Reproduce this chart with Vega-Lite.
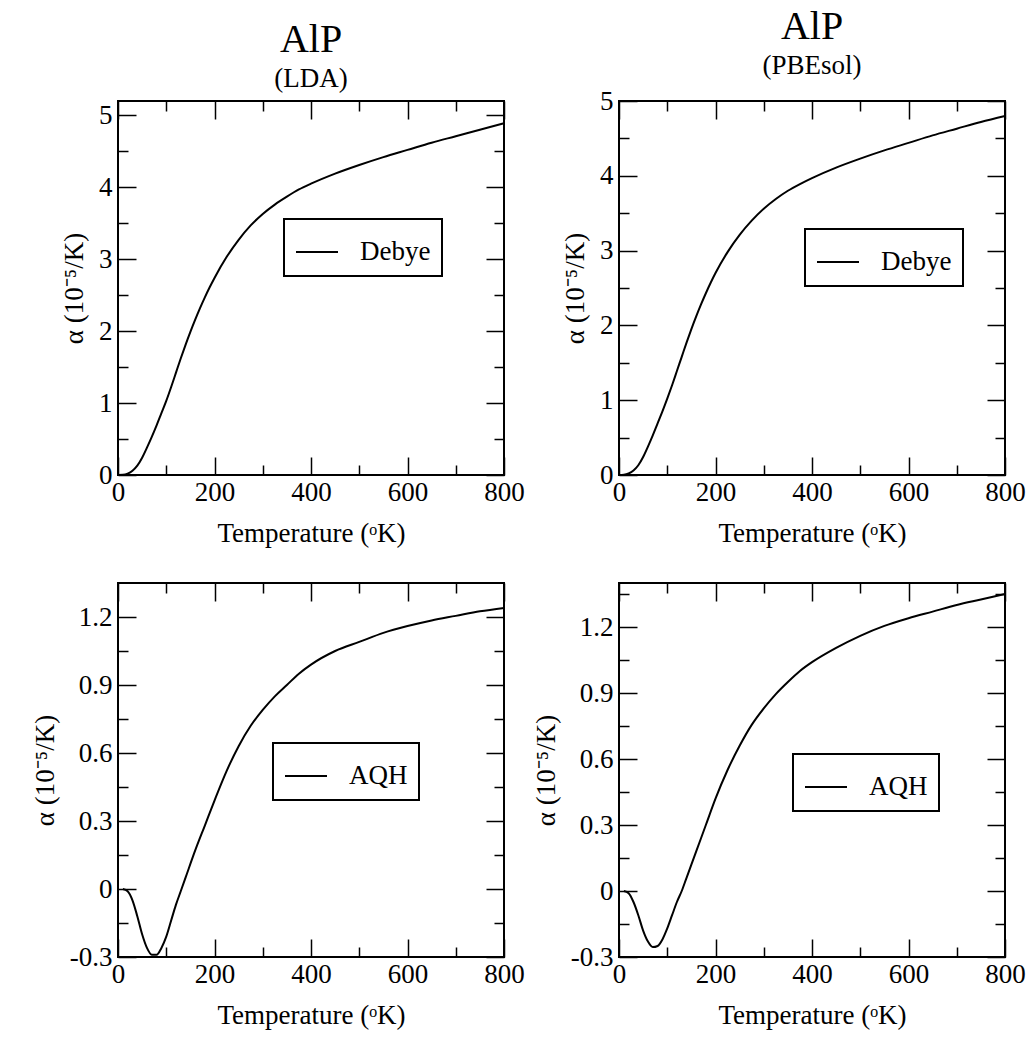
{
  "$schema": "https://vega.github.io/schema/vega-lite/v6.json",
  "background": "white",
  "padding": {"left": 30, "top": 6, "right": 10, "bottom": 10},
  "config": {
    "font": "Liberation Serif",
    "view": {"stroke": "black", "strokeWidth": 2},
    "style": {
      "guide-label": {"font": "Liberation Serif"},
      "guide-title": {"font": "Liberation Serif"},
      "group-title": {"font": "Liberation Serif"},
      "group-subtitle": {"font": "Liberation Serif"}
    },
    "axis": {
      "domain": false, "grid": false, "tickColor": "black", "tickWidth": 1.5,
      "labelFont": "Liberation Serif", "labelFontSize": 27, "labelColor": "black",
      "titleFont": "Liberation Serif", "titleFontSize": 27, "titleFontWeight": "normal", "titleColor": "black",
      "labelOverlap": false, "labelFlush": false
    },
    "title": {"font": "Liberation Serif", "fontSize": 40, "fontWeight": "normal", "color": "black",
      "subtitleFont": "Liberation Serif", "subtitleFontSize": 27, "subtitleColor": "black", "subtitlePadding": 6, "offset": 8, "anchor": "middle"},
    "legend": {"orient": "none", "title": null, "strokeColor": "black", "padding": 11, "symbolType": "stroke",
      "symbolSize": 1764, "symbolStrokeWidth": 2, "labelFont": "Liberation Serif", "labelFontSize": 27, "labelColor": "black", "labelOffset": 21,
      "fillColor": "white"}
  },
  "resolve": {"scale": {"color": "independent"}, "legend": {"color": "independent"}},
  "datasets": {
    "lda_debye": [
      {"T": 0, "a": 0, "s": "Debye"}, {"T": 10, "a": 0.003, "s": "Debye"}, {"T": 20, "a": 0.02, "s": "Debye"}, {"T": 30, "a": 0.06, "s": "Debye"},
      {"T": 40, "a": 0.13, "s": "Debye"}, {"T": 50, "a": 0.24, "s": "Debye"}, {"T": 60, "a": 0.38, "s": "Debye"}, {"T": 70, "a": 0.53, "s": "Debye"},
      {"T": 80, "a": 0.69, "s": "Debye"}, {"T": 90, "a": 0.86, "s": "Debye"}, {"T": 100, "a": 1.03, "s": "Debye"}, {"T": 110, "a": 1.22, "s": "Debye"},
      {"T": 120, "a": 1.42, "s": "Debye"}, {"T": 130, "a": 1.62, "s": "Debye"}, {"T": 140, "a": 1.81, "s": "Debye"}, {"T": 150, "a": 1.99, "s": "Debye"},
      {"T": 160, "a": 2.16, "s": "Debye"}, {"T": 170, "a": 2.32, "s": "Debye"}, {"T": 180, "a": 2.47, "s": "Debye"}, {"T": 190, "a": 2.61, "s": "Debye"},
      {"T": 200, "a": 2.74, "s": "Debye"}, {"T": 225, "a": 3.03, "s": "Debye"}, {"T": 250, "a": 3.27, "s": "Debye"}, {"T": 275, "a": 3.47, "s": "Debye"},
      {"T": 300, "a": 3.63, "s": "Debye"}, {"T": 325, "a": 3.76, "s": "Debye"}, {"T": 350, "a": 3.87, "s": "Debye"}, {"T": 375, "a": 3.97, "s": "Debye"},
      {"T": 400, "a": 4.05, "s": "Debye"}, {"T": 450, "a": 4.19, "s": "Debye"}, {"T": 500, "a": 4.31, "s": "Debye"}, {"T": 550, "a": 4.42, "s": "Debye"},
      {"T": 600, "a": 4.52, "s": "Debye"}, {"T": 650, "a": 4.62, "s": "Debye"}, {"T": 700, "a": 4.71, "s": "Debye"}, {"T": 750, "a": 4.8, "s": "Debye"},
      {"T": 800, "a": 4.89, "s": "Debye"}
    ],
    "pbe_debye": [
      {"T": 0, "a": 0, "s": "Debye"}, {"T": 10, "a": 0.003, "s": "Debye"}, {"T": 20, "a": 0.02, "s": "Debye"}, {"T": 30, "a": 0.06, "s": "Debye"},
      {"T": 40, "a": 0.13, "s": "Debye"}, {"T": 50, "a": 0.24, "s": "Debye"}, {"T": 60, "a": 0.38, "s": "Debye"}, {"T": 70, "a": 0.53, "s": "Debye"},
      {"T": 80, "a": 0.69, "s": "Debye"}, {"T": 90, "a": 0.85, "s": "Debye"}, {"T": 100, "a": 1.02, "s": "Debye"}, {"T": 110, "a": 1.2, "s": "Debye"},
      {"T": 120, "a": 1.39, "s": "Debye"}, {"T": 130, "a": 1.58, "s": "Debye"}, {"T": 140, "a": 1.77, "s": "Debye"}, {"T": 150, "a": 1.95, "s": "Debye"},
      {"T": 160, "a": 2.12, "s": "Debye"}, {"T": 170, "a": 2.28, "s": "Debye"}, {"T": 180, "a": 2.43, "s": "Debye"}, {"T": 190, "a": 2.57, "s": "Debye"},
      {"T": 200, "a": 2.7, "s": "Debye"}, {"T": 225, "a": 2.98, "s": "Debye"}, {"T": 250, "a": 3.21, "s": "Debye"}, {"T": 275, "a": 3.4, "s": "Debye"},
      {"T": 300, "a": 3.56, "s": "Debye"}, {"T": 325, "a": 3.69, "s": "Debye"}, {"T": 350, "a": 3.8, "s": "Debye"}, {"T": 375, "a": 3.89, "s": "Debye"},
      {"T": 400, "a": 3.97, "s": "Debye"}, {"T": 450, "a": 4.11, "s": "Debye"}, {"T": 500, "a": 4.23, "s": "Debye"}, {"T": 550, "a": 4.34, "s": "Debye"},
      {"T": 600, "a": 4.44, "s": "Debye"}, {"T": 650, "a": 4.54, "s": "Debye"}, {"T": 700, "a": 4.63, "s": "Debye"}, {"T": 750, "a": 4.72, "s": "Debye"},
      {"T": 800, "a": 4.8, "s": "Debye"}
    ],
    "lda_aqh": [
      {"T": 10, "a": 0, "s": "AQH"}, {"T": 20, "a": -0.01, "s": "AQH"}, {"T": 30, "a": -0.05, "s": "AQH"}, {"T": 40, "a": -0.12, "s": "AQH"},
      {"T": 50, "a": -0.2, "s": "AQH"}, {"T": 60, "a": -0.26, "s": "AQH"}, {"T": 70, "a": -0.29, "s": "AQH"}, {"T": 80, "a": -0.29, "s": "AQH"},
      {"T": 90, "a": -0.26, "s": "AQH"}, {"T": 100, "a": -0.21, "s": "AQH"}, {"T": 110, "a": -0.14, "s": "AQH"}, {"T": 120, "a": -0.07, "s": "AQH"},
      {"T": 130, "a": -0.01, "s": "AQH"}, {"T": 140, "a": 0.05, "s": "AQH"}, {"T": 160, "a": 0.17, "s": "AQH"}, {"T": 180, "a": 0.28, "s": "AQH"},
      {"T": 200, "a": 0.39, "s": "AQH"}, {"T": 225, "a": 0.52, "s": "AQH"}, {"T": 250, "a": 0.63, "s": "AQH"}, {"T": 275, "a": 0.72, "s": "AQH"},
      {"T": 300, "a": 0.79, "s": "AQH"}, {"T": 325, "a": 0.85, "s": "AQH"}, {"T": 350, "a": 0.9, "s": "AQH"}, {"T": 375, "a": 0.95, "s": "AQH"},
      {"T": 400, "a": 0.99, "s": "AQH"}, {"T": 450, "a": 1.05, "s": "AQH"}, {"T": 500, "a": 1.09, "s": "AQH"}, {"T": 550, "a": 1.13, "s": "AQH"},
      {"T": 600, "a": 1.16, "s": "AQH"}, {"T": 650, "a": 1.185, "s": "AQH"}, {"T": 700, "a": 1.205, "s": "AQH"}, {"T": 750, "a": 1.225, "s": "AQH"},
      {"T": 800, "a": 1.24, "s": "AQH"}
    ],
    "pbe_aqh": [
      {"T": 10, "a": 0, "s": "AQH"}, {"T": 20, "a": -0.01, "s": "AQH"}, {"T": 30, "a": -0.05, "s": "AQH"}, {"T": 40, "a": -0.11, "s": "AQH"},
      {"T": 50, "a": -0.18, "s": "AQH"}, {"T": 60, "a": -0.23, "s": "AQH"}, {"T": 70, "a": -0.255, "s": "AQH"}, {"T": 80, "a": -0.25, "s": "AQH"},
      {"T": 90, "a": -0.22, "s": "AQH"}, {"T": 100, "a": -0.17, "s": "AQH"}, {"T": 110, "a": -0.11, "s": "AQH"}, {"T": 120, "a": -0.05, "s": "AQH"},
      {"T": 130, "a": 0.0, "s": "AQH"}, {"T": 140, "a": 0.06, "s": "AQH"}, {"T": 160, "a": 0.18, "s": "AQH"}, {"T": 180, "a": 0.3, "s": "AQH"},
      {"T": 200, "a": 0.42, "s": "AQH"}, {"T": 225, "a": 0.55, "s": "AQH"}, {"T": 250, "a": 0.66, "s": "AQH"}, {"T": 275, "a": 0.755, "s": "AQH"},
      {"T": 300, "a": 0.83, "s": "AQH"}, {"T": 325, "a": 0.895, "s": "AQH"}, {"T": 350, "a": 0.95, "s": "AQH"}, {"T": 375, "a": 1.0, "s": "AQH"},
      {"T": 400, "a": 1.04, "s": "AQH"}, {"T": 450, "a": 1.105, "s": "AQH"}, {"T": 500, "a": 1.16, "s": "AQH"}, {"T": 550, "a": 1.205, "s": "AQH"},
      {"T": 600, "a": 1.24, "s": "AQH"}, {"T": 650, "a": 1.27, "s": "AQH"}, {"T": 700, "a": 1.3, "s": "AQH"}, {"T": 750, "a": 1.325, "s": "AQH"},
      {"T": 800, "a": 1.35, "s": "AQH"}
    ]
  },
  "columns": 2,
  "spacing": {"row": 108, "column": 115},
  "bounds": "flush",
  "concat": [
    {
      "width": 386, "height": 374,
      "title": {"text": "AlP", "subtitle": "(LDA)", "font": "Liberation Serif", "subtitleFont": "Liberation Serif"},
      "data": {"name": "lda_debye"},
      "resolve": {"axis": {"x": "independent", "y": "independent"}},
      "layer": [
        {
          "mark": {"type": "line", "strokeWidth": 2, "interpolate": "monotone", "color": "black"},
          "encoding": {
            "x": {"field": "T", "type": "quantitative", "scale": {"domain": [0, 800], "nice": false},
              "axis": {"orient": "bottom", "title": "Temperature (ᵒK)", "values": [0, 200, 400, 600, 800], "tickSize": -18,
                "labelExpr": "format(datum.value, 'd')", "labelPadding": 22, "titlePadding": 15, "labelFont": "Liberation Serif", "titleFont": "Liberation Serif"}},
            "y": {"field": "a", "type": "quantitative", "scale": {"domain": [0, 5.2], "nice": false, "zero": false},
              "axis": {"orient": "left", "title": "α (10⁻⁵/K)", "values": [0, 1, 2, 3, 4, 5], "tickSize": -18,
                "labelExpr": "format(datum.value, 'd')", "labelPadding": 24, "titlePadding": 10, "labelFont": "Liberation Serif", "titleFont": "Liberation Serif"}},
            "color": {"field": "s", "type": "nominal", "scale": {"range": ["black"]},
              "legend": {"legendX": 166, "legendY": 118, "encode": {"legend": {"update": {"strokeWidth": {"value": 2}}}}}}
          }
        },
        {
          "mark": {"type": "line", "opacity": 0},
          "encoding": {
            "x": {"field": "T", "type": "quantitative", "axis": {"orient": "top", "title": null, "labels": false, "values": [0, 200, 400, 600, 800], "tickSize": -18}},
            "y": {"field": "a", "type": "quantitative", "axis": {"orient": "right", "title": null, "labels": false, "values": [0, 1, 2, 3, 4, 5], "tickSize": -18}}
          }
        },
        {
          "mark": {"type": "line", "opacity": 0},
          "encoding": {
            "x": {"field": "T", "type": "quantitative", "axis": {"orient": "bottom", "title": null, "labels": false, "values": [100, 300, 500, 700], "tickSize": -10}},
            "y": {"field": "a", "type": "quantitative", "axis": {"orient": "left", "title": null, "labels": false, "values": [0.5, 1.5, 2.5, 3.5, 4.5], "tickSize": -10}}
          }
        },
        {
          "mark": {"type": "line", "opacity": 0},
          "encoding": {
            "x": {"field": "T", "type": "quantitative", "axis": {"orient": "top", "title": null, "labels": false, "values": [100, 300, 500, 700], "tickSize": -10}},
            "y": {"field": "a", "type": "quantitative", "axis": {"orient": "right", "title": null, "labels": false, "values": [0.5, 1.5, 2.5, 3.5, 4.5], "tickSize": -10}}
          }
        }
      ]
    },
    {
      "width": 386, "height": 374,
      "title": {"text": "AlP", "subtitle": "(PBEsol)", "font": "Liberation Serif", "subtitleFont": "Liberation Serif"},
      "data": {"name": "pbe_debye"},
      "resolve": {"axis": {"x": "independent", "y": "independent"}},
      "layer": [
        {
          "mark": {"type": "line", "strokeWidth": 2, "interpolate": "monotone", "color": "black"},
          "encoding": {
            "x": {"field": "T", "type": "quantitative", "scale": {"domain": [0, 800], "nice": false},
              "axis": {"orient": "bottom", "title": "Temperature (ᵒK)", "values": [0, 200, 400, 600, 800], "tickSize": -18,
                "labelExpr": "format(datum.value, 'd')", "labelPadding": 22, "titlePadding": 15, "labelFont": "Liberation Serif", "titleFont": "Liberation Serif"}},
            "y": {"field": "a", "type": "quantitative", "scale": {"domain": [0, 5], "nice": false, "zero": false},
              "axis": {"orient": "left", "title": "α (10⁻⁵/K)", "values": [0, 1, 2, 3, 4, 5], "tickSize": -18,
                "labelExpr": "format(datum.value, 'd')", "labelPadding": 24, "titlePadding": 10, "labelFont": "Liberation Serif", "titleFont": "Liberation Serif"}},
            "color": {"field": "s", "type": "nominal", "scale": {"range": ["black"]},
              "legend": {"legendX": 186, "legendY": 128, "encode": {"legend": {"update": {"strokeWidth": {"value": 2}}}}}}
          }
        },
        {
          "mark": {"type": "line", "opacity": 0},
          "encoding": {
            "x": {"field": "T", "type": "quantitative", "axis": {"orient": "top", "title": null, "labels": false, "values": [0, 200, 400, 600, 800], "tickSize": -18}},
            "y": {"field": "a", "type": "quantitative", "axis": {"orient": "right", "title": null, "labels": false, "values": [0, 1, 2, 3, 4, 5], "tickSize": -18}}
          }
        },
        {
          "mark": {"type": "line", "opacity": 0},
          "encoding": {
            "x": {"field": "T", "type": "quantitative", "axis": {"orient": "bottom", "title": null, "labels": false, "values": [100, 300, 500, 700], "tickSize": -10}},
            "y": {"field": "a", "type": "quantitative", "axis": {"orient": "left", "title": null, "labels": false, "values": [0.5, 1.5, 2.5, 3.5, 4.5], "tickSize": -10}}
          }
        },
        {
          "mark": {"type": "line", "opacity": 0},
          "encoding": {
            "x": {"field": "T", "type": "quantitative", "axis": {"orient": "top", "title": null, "labels": false, "values": [100, 300, 500, 700], "tickSize": -10}},
            "y": {"field": "a", "type": "quantitative", "axis": {"orient": "right", "title": null, "labels": false, "values": [0.5, 1.5, 2.5, 3.5, 4.5], "tickSize": -10}}
          }
        }
      ]
    },
    {
      "width": 386, "height": 374,
      "data": {"name": "lda_aqh"},
      "resolve": {"axis": {"x": "independent", "y": "independent"}},
      "layer": [
        {
          "mark": {"type": "line", "strokeWidth": 2, "interpolate": "monotone", "color": "black"},
          "encoding": {
            "x": {"field": "T", "type": "quantitative", "scale": {"domain": [0, 800], "nice": false},
              "axis": {"orient": "bottom", "title": "Temperature (ᵒK)", "values": [0, 200, 400, 600, 800], "tickSize": -18,
                "labelExpr": "format(datum.value, 'd')", "labelPadding": 22, "titlePadding": 15, "labelFont": "Liberation Serif", "titleFont": "Liberation Serif"}},
            "y": {"field": "a", "type": "quantitative", "scale": {"domain": [-0.3, 1.35], "nice": false, "zero": false},
              "axis": {"orient": "left", "title": "α (10⁻⁵/K)", "values": [-0.3, 0, 0.3, 0.6, 0.9, 1.2], "tickSize": -18,
                "labelExpr": "datum.value == 0 ? '0' : replace(format(datum.value, '.1f'), '−', '-')", "labelPadding": 24, "titlePadding": 10, "labelFont": "Liberation Serif", "titleFont": "Liberation Serif"}},
            "color": {"field": "s", "type": "nominal", "scale": {"range": ["black"]},
              "legend": {"legendX": 155, "legendY": 160, "encode": {"legend": {"update": {"strokeWidth": {"value": 2}}}}}}
          }
        },
        {
          "mark": {"type": "line", "opacity": 0},
          "encoding": {
            "x": {"field": "T", "type": "quantitative", "axis": {"orient": "top", "title": null, "labels": false, "values": [0, 200, 400, 600, 800], "tickSize": -18}},
            "y": {"field": "a", "type": "quantitative", "axis": {"orient": "right", "title": null, "labels": false, "values": [-0.3, 0, 0.3, 0.6, 0.9, 1.2], "tickSize": -18}}
          }
        },
        {
          "mark": {"type": "line", "opacity": 0},
          "encoding": {
            "x": {"field": "T", "type": "quantitative", "axis": {"orient": "bottom", "title": null, "labels": false, "values": [100, 300, 500, 700], "tickSize": -10}},
            "y": {"field": "a", "type": "quantitative", "axis": {"orient": "left", "title": null, "labels": false, "values": [-0.15, 0.15, 0.45, 0.75, 1.05], "tickSize": -10}}
          }
        },
        {
          "mark": {"type": "line", "opacity": 0},
          "encoding": {
            "x": {"field": "T", "type": "quantitative", "axis": {"orient": "top", "title": null, "labels": false, "values": [100, 300, 500, 700], "tickSize": -10}},
            "y": {"field": "a", "type": "quantitative", "axis": {"orient": "right", "title": null, "labels": false, "values": [-0.15, 0.15, 0.45, 0.75, 1.05], "tickSize": -10}}
          }
        }
      ]
    },
    {
      "width": 386, "height": 374,
      "data": {"name": "pbe_aqh"},
      "resolve": {"axis": {"x": "independent", "y": "independent"}},
      "layer": [
        {
          "mark": {"type": "line", "strokeWidth": 2, "interpolate": "monotone", "color": "black"},
          "encoding": {
            "x": {"field": "T", "type": "quantitative", "scale": {"domain": [0, 800], "nice": false},
              "axis": {"orient": "bottom", "title": "Temperature (ᵒK)", "values": [0, 200, 400, 600, 800], "tickSize": -18,
                "labelExpr": "format(datum.value, 'd')", "labelPadding": 22, "titlePadding": 15, "labelFont": "Liberation Serif", "titleFont": "Liberation Serif"}},
            "y": {"field": "a", "type": "quantitative", "scale": {"domain": [-0.3, 1.4], "nice": false, "zero": false},
              "axis": {"orient": "left", "title": "α (10⁻⁵/K)", "values": [-0.3, 0, 0.3, 0.6, 0.9, 1.2], "tickSize": -18,
                "labelExpr": "datum.value == 0 ? '0' : replace(format(datum.value, '.1f'), '−', '-')", "labelPadding": 24, "titlePadding": 10, "labelFont": "Liberation Serif", "titleFont": "Liberation Serif"}},
            "color": {"field": "s", "type": "nominal", "scale": {"range": ["black"]},
              "legend": {"legendX": 174, "legendY": 171, "encode": {"legend": {"update": {"strokeWidth": {"value": 2}}}}}}
          }
        },
        {
          "mark": {"type": "line", "opacity": 0},
          "encoding": {
            "x": {"field": "T", "type": "quantitative", "axis": {"orient": "top", "title": null, "labels": false, "values": [0, 200, 400, 600, 800], "tickSize": -18}},
            "y": {"field": "a", "type": "quantitative", "axis": {"orient": "right", "title": null, "labels": false, "values": [-0.3, 0, 0.3, 0.6, 0.9, 1.2], "tickSize": -18}}
          }
        },
        {
          "mark": {"type": "line", "opacity": 0},
          "encoding": {
            "x": {"field": "T", "type": "quantitative", "axis": {"orient": "bottom", "title": null, "labels": false, "values": [100, 300, 500, 700], "tickSize": -10}},
            "y": {"field": "a", "type": "quantitative", "axis": {"orient": "left", "title": null, "labels": false, "values": [-0.15, 0.15, 0.45, 0.75, 1.05, 1.35], "tickSize": -10}}
          }
        },
        {
          "mark": {"type": "line", "opacity": 0},
          "encoding": {
            "x": {"field": "T", "type": "quantitative", "axis": {"orient": "top", "title": null, "labels": false, "values": [100, 300, 500, 700], "tickSize": -10}},
            "y": {"field": "a", "type": "quantitative", "axis": {"orient": "right", "title": null, "labels": false, "values": [-0.15, 0.15, 0.45, 0.75, 1.05, 1.35], "tickSize": -10}}
          }
        }
      ]
    }
  ]
}
